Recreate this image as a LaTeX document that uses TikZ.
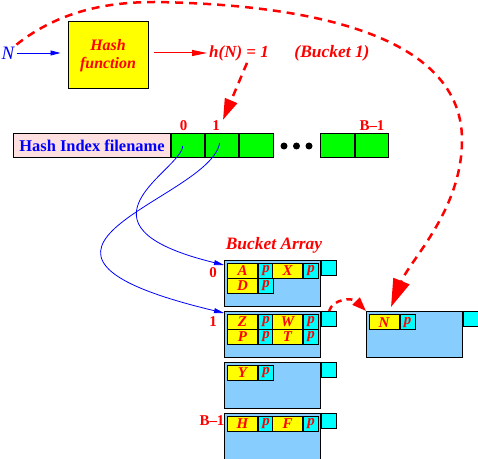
\documentclass[tikz,border=0pt]{standalone}
\usepackage{fontspec}
\setmainfont{Liberation Serif}
\usetikzlibrary{arrows.meta, positioning, calc}
\definecolor{keyyellow}{RGB}{255, 255, 0}
\definecolor{ptrcyan}{RGB}{0, 255, 255}
\definecolor{slotgreen}{RGB}{0, 255, 0}
\definecolor{idxpink}{RGB}{255, 224, 224}
\definecolor{bucketblue}{RGB}{135, 206, 255}
\definecolor{hashred}{RGB}{255, 0, 0}
\definecolor{hashblue}{RGB}{0, 0, 255}

\begin{document}
\begin{tikzpicture}[
  x=1bp, y=-1bp,
  fnbox/.style={draw, line width=1bp, fill=keyyellow, minimum width=80bp, minimum height=67bp, align=center, text=hashred, font=\fontsize{16}{18}\selectfont\bfseries\itshape},
  idxbox/.style={draw, line width=1bp, fill=idxpink, minimum width=156bp, minimum height=24bp, inner sep=0pt, text=hashblue, font=\fontsize{16.5}{18}\selectfont\bfseries},
  slot/.style={draw, line width=1bp, fill=slotgreen, minimum width=33.4bp, minimum height=24bp, inner sep=0pt},
  dot/.style={circle, fill=black, minimum size=7bp, inner sep=0pt},
  bucket/.style={draw, line width=1bp, fill=bucketblue, minimum width=96bp, minimum height=45.5bp, inner sep=0pt, anchor=north west},
  tab/.style={draw, line width=1bp, fill=ptrcyan, minimum size=15bp, inner sep=0pt, anchor=north west},
  key/.style={draw, line width=1bp, fill=keyyellow, minimum width=30bp, minimum height=15bp, inner sep=0pt, anchor=north west, text=hashred, font=\fontsize{15}{15}\selectfont\bfseries\itshape},
  ptr/.style={draw, line width=1bp, fill=ptrcyan, minimum width=15bp, minimum height=15bp, inner sep=0pt, text=hashred, font=\fontsize{15}{15}\selectfont\bfseries\itshape},
  redlbl/.style={text=hashred, inner sep=1bp, font=\fontsize{15}{16}\selectfont\bfseries},
  redtxt/.style={text=hashred, inner sep=2bp, font=\fontsize{17.5}{19}\selectfont\bfseries\itshape},
  bluearr/.style={draw=hashblue, line width=0.8bp, -{Triangle[length=10bp, width=5bp]}},
  redarr/.style={draw=hashred, line width=1bp, -{Triangle[length=15bp, width=6bp]}},
  reddash/.style={draw=hashred, line width=2.5bp, dash pattern=on 8bp off 6bp},
]
  \useasboundingbox (0,0) rectangle (478,459);
  % hashing the key
  \node[text=hashblue, inner sep=2bp, font=\fontsize{19}{20}\selectfont\itshape] (N) at (8,53) {N};
  \node[fnbox] (hashfn) at (108,55.5) {Hash\\function};
  \node[redtxt, font=\fontsize{17}{19}\selectfont\bfseries\itshape] (hval) at (239,53) {h(N) = 1};
  \node[redtxt] (bkt1) at (332,53) {(Bucket 1)};
  \draw[bluearr] (N.east) -- ([xshift=-7bp]hashfn.west |- N.east);
  \draw[redarr] ([xshift=5bp]hashfn.east |- hval.west) -- (hval.west);

  % hash index
  \node[idxbox] (idx) at (92,146) {Hash Index filename};
  \node[slot, anchor=west] (s0) at (idx.east) {};
  \node[slot, right=0pt of s0] (s1) {};
  \node[slot, right=0pt of s1] (s2) {};
  \node[dot] (d1) at (284,146) {};
  \node[dot] (d2) at (296.5,146) {};
  \node[dot] (d3) at (309,146) {};
  \node[slot] (sB2) at (337.5,146) {};
  \node[slot, right=0pt of sB2] (sB1) {};
  \node[redlbl] (l0) at (183.5,126) {0};
  \node[redlbl] (l1) at (216,126) {1};
  \node[redlbl] (lB) at (372,126) {B--1};
  \draw[reddash, -{Triangle[length=21bp, width=13bp]}] ([xshift=8bp]hval.south) -- ([xshift=7bp]l1.north);

  % bucket array
  \node[redtxt] (barr) at (274,245) {Bucket Array};
  \foreach \i/\y in {0/260, 1/311, 2/362, 3/413} {
    \node[bucket] (b\i) at (224,\y) {};
    \node[tab] (t\i) at (b\i.north east) {};
  }
  \foreach \b/\r/\c/\txt in {0/0/0/A, 0/0/1/X, 0/1/0/D, 1/0/0/Z, 1/0/1/W, 1/1/0/P, 1/1/1/T, 2/0/0/Y, 3/0/0/H, 3/0/1/F} {
    \node[key] (k\b\r\c) at ([shift={(3+45*\c,3+15*\r)}]b\b.north west) {\txt};
    \node[ptr, right=0pt of k\b\r\c] (p\b\r\c) {p};
  }
  \node[redlbl] (r0) at (213,273) {0};
  \node[redlbl] (r1) at (213,322) {1};
  \node[redlbl] (r3) at (212,421) {B--1};

  % overflow bucket
  \node[bucket] (ovf) at (366,311) {};
  \node[tab] (tovf) at (ovf.north east) {};
  \node[key] (kN) at ([shift={(2.5,3.3)}]ovf.north west) {N};
  \node[ptr, right=0pt of kN] (pN) {p};

  \draw[bluearr] ([xshift=-5bp]s0.center) .. controls (182,170) and (60,225) .. ([yshift=-5bp]b0.north west);
  \draw[bluearr] ([shift={(-2.5,-3)}]s1.center) .. controls (210,200) and (-40,250) .. ([yshift=-2bp]b1.north west);
  \draw[reddash, -{Triangle[length=28bp, width=17bp]}] (N.north east) .. controls (60,10) and (110,2) .. (155,2)
    .. controls (280,4) and (462,25) .. (462,140)
    .. controls (462,210) and (410,260) .. ([shift={(25,-4)}]ovf.north west);
  \draw[reddash, dash pattern=on 6bp off 5bp, -{Triangle[length=14bp, width=10bp]}] (t1.north) .. controls (333,299) and (352,297) .. (ovf.north west);
\end{tikzpicture}
\end{document}
